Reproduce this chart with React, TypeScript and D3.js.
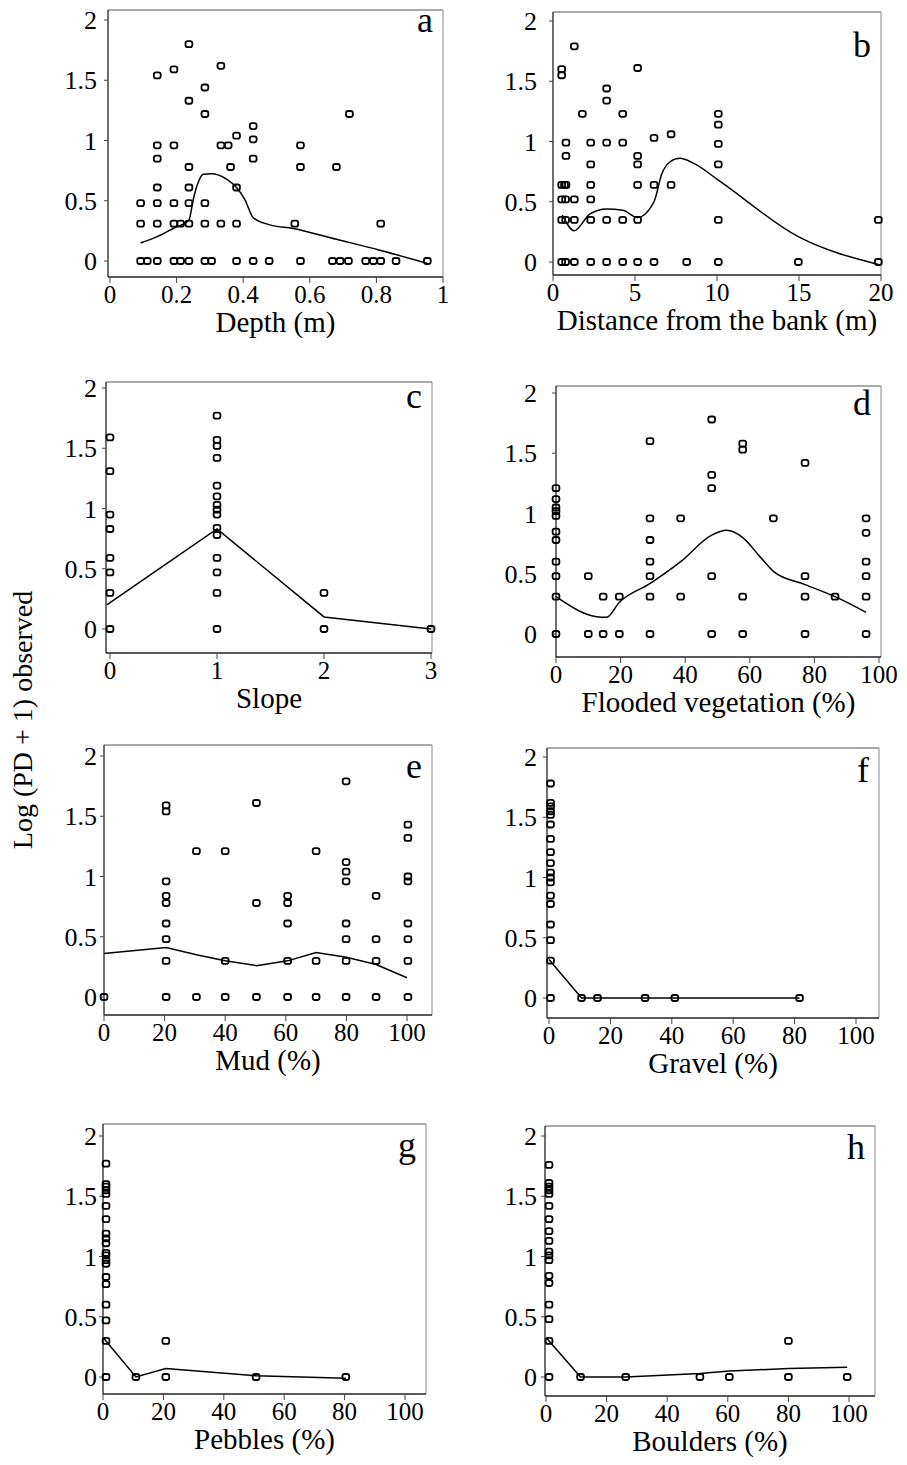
import * as d3 from "d3";
import React from "react";

// y axis shared by all eight panels
const yTicks = [0, 0.5, 1, 1.5, 2];
const yTitle = "Log (PD + 1) observed";

// a - depth
const depthTicks = [0, 0.2, 0.4, 0.6, 0.8, 1];
const depthPts = [
  [0.092, 0.48], [0.092, 0.31], [0.092, 0], [0.112, 0],
  [0.142, 1.54], [0.142, 0.96], [0.142, 0.85], [0.142, 0.61], [0.142, 0.48], [0.142, 0.31], [0.142, 0],
  [0.192, 1.59], [0.192, 0.96], [0.192, 0.48], [0.192, 0.31], [0.192, 0],
  [0.212, 0.31], [0.212, 0],
  [0.237, 1.8], [0.237, 1.33], [0.237, 0.78], [0.237, 0.61], [0.237, 0.48], [0.237, 0.31], [0.237, 0],
  [0.285, 1.44], [0.285, 1.22], [0.285, 0.48], [0.285, 0.31], [0.285, 0], [0.305, 0],
  [0.333, 1.62], [0.333, 0.96], [0.333, 0.31], [0.355, 0.96], [0.362, 0.78],
  [0.38, 1.04], [0.38, 0.61], [0.38, 0.31], [0.38, 0],
  [0.43, 1.12], [0.43, 1.01], [0.43, 0.85], [0.43, 0], [0.478, 0], [0.555, 0.31],
  [0.572, 0.96], [0.572, 0.78], [0.572, 0], [0.668, 0], [0.68, 0.78], [0.691, 0],
  [0.716, 0], [0.719, 1.22], [0.768, 0], [0.791, 0], [0.813, 0.31], [0.813, 0],
  [0.859, 0], [0.953, 0],
];
const depthFit = [
  [0.092, 0.15], [0.14, 0.2], [0.19, 0.27], [0.237, 0.34], [0.25, 0.51], [0.262, 0.63],
  [0.28, 0.72], [0.305, 0.725], [0.35, 0.68], [0.38, 0.61], [0.405, 0.51], [0.43, 0.36],
  [0.48, 0.3], [0.55, 0.27], [0.68, 0.18], [0.81, 0.09], [0.953, -0.02],
];

// b - distance from the bank
const distTicks = [0, 5, 10, 15, 20];
const distPts = [
  [0.53, 1.6], [0.53, 1.55], [0.53, 0.64], [0.53, 0.52], [0.53, 0.35], [0.53, 0],
  [0.7, 0.64], [0.77, 0.52], [0.77, 0.35], [0.77, 0], [0.79, 0.99], [0.79, 0.88], [0.79, 0.64],
  [1.3, 1.79], [1.3, 0.52], [1.3, 0.35], [1.3, 0], [1.79, 1.23],
  [2.3, 0.99], [2.3, 0.81], [2.3, 0.64], [2.3, 0.52], [2.3, 0.35], [2.3, 0],
  [3.27, 1.44], [3.27, 1.34], [3.27, 0.99], [3.27, 0.35], [3.27, 0],
  [4.25, 1.23], [4.25, 0.99], [4.25, 0.35], [4.25, 0],
  [5.16, 1.61], [5.16, 0.88], [5.16, 0.81], [5.16, 0.64], [5.16, 0.35], [5.16, 0],
  [6.16, 1.03], [6.16, 0.64], [6.16, 0], [7.2, 1.06], [7.2, 0.64], [8.15, 0],
  [10.08, 1.23], [10.08, 1.14], [10.08, 0.98], [10.08, 0.81], [10.08, 0.35], [10.08, 0],
  [14.96, 0], [19.84, 0.35], [19.84, 0],
];
const distFit = [
  [0.57, 0.39], [1.3, 0.26], [2.26, 0.4], [3.27, 0.44], [4.25, 0.43], [5.16, 0.37],
  [6.16, 0.5], [6.63, 0.73], [7.13, 0.83], [7.74, 0.86], [8.56, 0.82], [10.08, 0.68],
  [14.96, 0.21], [19.84, -0.02],
];

// c - slope
const slopeTicks = [0, 1, 2, 3];
const slopePts = [
  [0, 1.59], [0, 1.31], [0, 0.95], [0, 0.83], [0, 0.59], [0, 0.47], [0, 0.3], [0, 0],
  [1, 1.77], [1, 1.57], [1, 1.52], [1, 1.42], [1, 1.19], [1, 1.1], [1, 1.03], [1, 0.99],
  [1, 0.95], [1, 0.84], [1, 0.78], [1, 0.59], [1, 0.47], [1, 0.3], [1, 0],
  [2, 0.3], [2, 0], [3, 0],
];
const slopeFit = [[-0.03, 0.2], [1, 0.83], [2, 0.1], [3, 0]];

// d - flooded vegetation
const pctTicks = [0, 20, 40, 60, 80, 100];
const vegPts = [
  [0, 1.21], [0, 1.12], [0, 1.05], [0, 1.02], [0, 0.98], [0, 0.85], [0, 0.78], [0, 0.6], [0, 0.48], [0, 0.31], [0, 0],
  [10, 0.48], [10, 0], [14.6, 0.31], [14.6, 0], [19.6, 0.31], [19.6, 0],
  [29.1, 1.6], [29.1, 0.96], [29.1, 0.78], [29.1, 0.6], [29.1, 0.48], [29.1, 0.31], [29.1, 0],
  [38.6, 0.96], [38.6, 0.31],
  [48.2, 1.78], [48.2, 1.32], [48.2, 1.21], [48.2, 0.48], [48.2, 0],
  [57.8, 1.58], [57.8, 1.53], [57.8, 0.31], [57.8, 0], [67.3, 0.96],
  [77.1, 1.42], [77.1, 0.48], [77.1, 0.31], [77.1, 0], [86.4, 0.31],
  [96, 0.96], [96, 0.84], [96, 0.6], [96, 0.48], [96, 0.31], [96, 0],
];
const vegFit = [
  [0, 0.31], [14.1, 0.14], [15.7, 0.14], [19.5, 0.26], [29.2, 0.42], [38.6, 0.6],
  [48.2, 0.82], [52.8, 0.86], [57.8, 0.8], [63.2, 0.64], [67.3, 0.52], [77.1, 0.41],
  [86.4, 0.31], [96, 0.18],
];

// e - mud
const mudPts = [
  [0, 0],
  [20.5, 1.59], [20.5, 1.54], [20.5, 0.96], [20.5, 0.84], [20.5, 0.78], [20.5, 0.61], [20.5, 0.48], [20.5, 0.3], [20.5, 0],
  [30.5, 1.21], [30.5, 0], [40, 1.21], [40, 0.3], [40, 0],
  [50.3, 1.61], [50.3, 0.78], [50.3, 0],
  [60.6, 0.84], [60.6, 0.78], [60.6, 0.61], [60.6, 0.3], [60.6, 0],
  [70, 1.21], [70, 0.3], [70, 0],
  [79.9, 1.79], [79.9, 1.12], [79.9, 1.04], [79.9, 0.96], [79.9, 0.61], [79.9, 0.48], [79.9, 0.3], [79.9, 0],
  [89.8, 0.84], [89.8, 0.48], [89.8, 0.3], [89.8, 0],
  [100.3, 1.43], [100.3, 1.32], [100.3, 1.0], [100.3, 0.96], [100.3, 0.61], [100.3, 0.48], [100.3, 0.3], [100.3, 0],
];
const mudFit = [
  [0, 0.36], [20.5, 0.41], [30.5, 0.35], [40, 0.3], [50.3, 0.26], [60.6, 0.3],
  [70, 0.37], [80, 0.33], [89.8, 0.27], [100, 0.16],
];

// f - gravel
const gravelPts = [
  [0.5, 1.78], [0.5, 1.62], [0.5, 1.59], [0.5, 1.55], [0.5, 1.52], [0.5, 1.44], [0.5, 1.32],
  [0.5, 1.21], [0.5, 1.12], [0.5, 1.04], [0.5, 1.0], [0.5, 0.96], [0.5, 0.85], [0.5, 0.78],
  [0.5, 0.61], [0.5, 0.48], [0.5, 0.31], [0.5, 0],
  [10.6, 0], [15.8, 0], [31.3, 0], [41, 0], [81.6, 0],
];
const gravelFit = [[0, 0.32], [10.6, 0], [15.8, 0], [31.3, 0], [41, 0], [81.6, 0]];

// g - pebbles
const pebblePts = [
  [1, 1.77], [1, 1.6], [1, 1.58], [1, 1.55], [1, 1.52], [1, 1.42], [1, 1.31], [1, 1.19],
  [1, 1.15], [1, 1.11], [1, 1.03], [1, 1.01], [1, 0.97], [1, 0.94], [1, 0.83], [1, 0.77],
  [1, 0.6], [1, 0.47], [1, 0.3], [1, 0],
  [10.9, 0], [20.8, 0.3], [20.8, 0], [50.7, 0], [80.4, 0],
];
const pebbleFit = [[0.3, 0.32], [10.9, 0], [20.8, 0.07], [50.7, 0.01], [80.4, -0.01]];

// h - boulders
const boulderPts = [
  [1, 1.76], [1, 1.61], [1, 1.58], [1, 1.55], [1, 1.52], [1, 1.42], [1, 1.31], [1, 1.21],
  [1, 1.13], [1, 1.04], [1, 1.01], [1, 0.97], [1, 0.84], [1, 0.78], [1, 0.6], [1, 0.48],
  [1, 0.3], [1, 0],
  [11.4, 0], [26.3, 0], [50.8, 0], [60.5, 0], [80, 0.3], [80, 0], [99.4, 0],
];
const boulderFit = [[0.3, 0.32], [11.4, 0], [26.3, 0], [50.8, 0.03], [60.5, 0.05], [80, 0.07], [99.4, 0.08]];

// layout: frame = [left, right, top, bottom], y0 = pixel row of y = 0
const panels = [
  { id: "a", title: "Depth (m)", pts: depthPts, fit: depthFit, smooth: true, ticks: depthTicks, xDom: [0, 1], xRange: [110, 443], frame: [108, 443, 10, 277], y0: 261, labelEnd: 97, letterDy: 22 },
  { id: "b", title: "Distance from the bank (m)", pts: distPts, fit: distFit, smooth: true, ticks: distTicks, xDom: [0, 20], xRange: [553, 881], frame: [553, 881, 12, 275], y0: 262, labelEnd: 537, letterDy: 45 },
  { id: "c", title: "Slope", pts: slopePts, fit: slopeFit, smooth: false, ticks: slopeTicks, xDom: [0, 3], xRange: [110, 431], frame: [106, 432, 382, 653], y0: 629, labelEnd: 97, letterDy: 26 },
  { id: "d", title: "Flooded vegetation (%)", pts: vegPts, fit: vegFit, smooth: true, ticks: pctTicks, xDom: [0, 100], xRange: [556, 879], frame: [556, 881, 386, 657], y0: 634, labelEnd: 537, letterDy: 29 },
  { id: "e", title: "Mud (%)", pts: mudPts, fit: mudFit, smooth: false, ticks: pctTicks, xDom: [0, 100], xRange: [104, 407], frame: [104, 432, 745, 1015], y0: 997, labelEnd: 97, letterDy: 33 },
  { id: "f", title: "Gravel (%)", pts: gravelPts, fit: gravelFit, smooth: false, ticks: pctTicks, xDom: [0, 100], xRange: [549, 856], frame: [547, 879, 748, 1018], y0: 998, labelEnd: 537, letterDy: 34 },
  { id: "g", title: "Pebbles (%)", pts: pebblePts, fit: pebbleFit, smooth: false, ticks: pctTicks, xDom: [0, 100], xRange: [103, 405], frame: [103, 426, 1124, 1394], y0: 1377, labelEnd: 97, letterDy: 33 },
  { id: "h", title: "Boulders (%)", pts: boulderPts, fit: boulderFit, smooth: false, ticks: pctTicks, xDom: [0, 100], xRange: [546, 849], frame: [545, 875, 1126, 1396], y0: 1377, labelEnd: 537, letterDy: 33 },
];

const font = "'Liberation Serif', 'Times New Roman', serif";

const Panel = ({ p }) => {
  const [left, right, top, bottom] = p.frame;
  const x = d3.scaleLinear().domain(p.xDom).range(p.xRange);
  const y = d3.scaleLinear().domain([0, 2]).range([p.y0, p.y0 - 241]);
  const line = d3
    .line()
    .x((d) => x(d[0]))
    .y((d) => y(d[1]))
    .curve(p.smooth ? d3.curveMonotoneX : d3.curveLinear);

  return (
    <g>
      {/* frame: top/right faint like the scan */}
      <line x1={left} x2={right} y1={top} y2={top} stroke="#555" strokeWidth={1} />
      <line x1={right} x2={right} y1={top} y2={bottom} stroke="#888" strokeWidth={1} />
      <line x1={left} x2={left} y1={top} y2={bottom} stroke="#222" strokeWidth={1.3} />
      <line x1={left} x2={right} y1={bottom} y2={bottom} stroke="#222" strokeWidth={1.3} />

      {yTicks.map((t) => (
        <g key={"y" + t}>
          <line x1={left - 4} x2={left} y1={y(t)} y2={y(t)} stroke="#444" />
          <text x={p.labelEnd} y={y(t) + 9} textAnchor="end" fontSize={26}>
            {t}
          </text>
        </g>
      ))}

      {p.ticks.map((t) => (
        <g key={"x" + t}>
          <line x1={x(t)} x2={x(t)} y1={bottom} y2={bottom + 6} stroke="#444" />
          <text x={x(t)} y={bottom + 26} textAnchor="middle" fontSize={25}>
            {t}
          </text>
        </g>
      ))}

      <text x={(left + right) / 2} y={bottom + 55} textAnchor="middle" fontSize={29}>
        {p.title}
      </text>
      <text x={right - 10} y={top + p.letterDy} textAnchor="end" fontSize={36}>
        {p.id}
      </text>

      {p.pts.map((d, i) => (
        <rect
          key={i}
          x={x(d[0]) - 3.4}
          y={y(d[1]) - 3}
          width={6.8}
          height={6}
          rx={2.2}
          fill="none"
          stroke="#000"
          strokeWidth={1.8}
        />
      ))}
      <path d={line(p.fit)} fill="none" stroke="#000" strokeWidth={1.5} />
    </g>
  );
};

export default function App() {
  return (
    <svg
      width={907}
      height={1465}
      style={{ position: "absolute", left: 0, top: 0, background: "#fff" }}
      fontFamily={font}
    >
      <rect width={907} height={1465} fill="#fff" />
      {panels.map((p) => (
        <Panel key={p.id} p={p} />
      ))}
      <text transform="translate(32,720) rotate(-90)" textAnchor="middle" fontSize={28}>
        {yTitle}
      </text>
    </svg>
  );
}
